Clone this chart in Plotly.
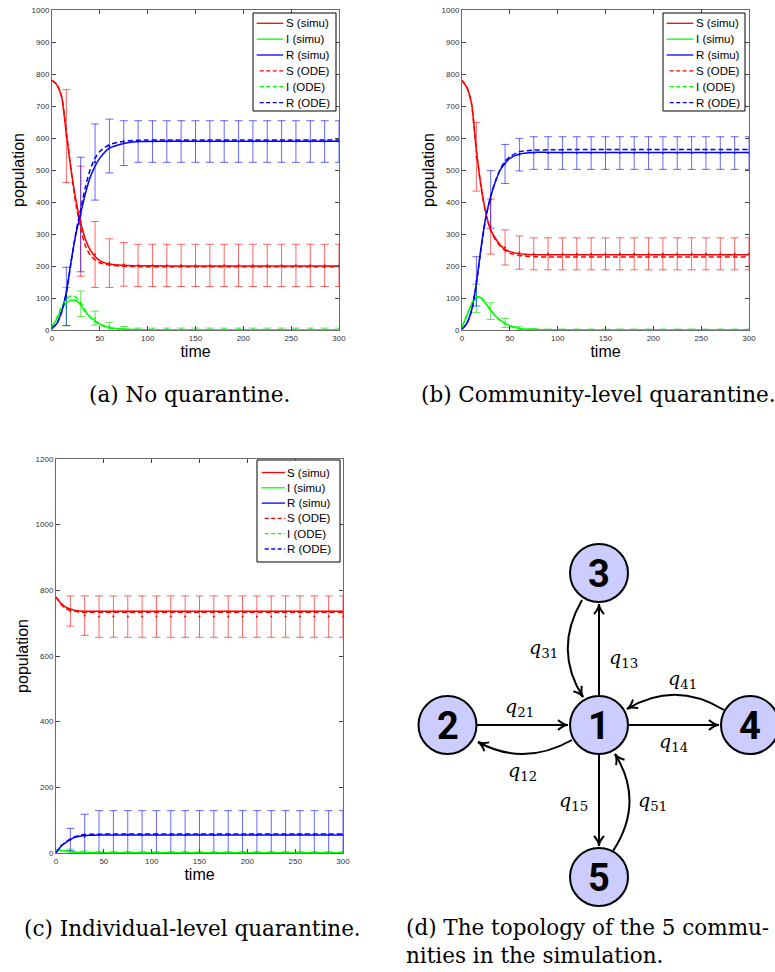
import math
import plotly.graph_objects as go

W, H = 775, 972

# ---------------- data ----------------
t_curve = [0, 5, 10, 15, 20, 25, 30, 35, 40, 45, 50, 60, 75, 90, 120, 150, 200, 250, 300]
t_err = [15, 30, 45, 60, 75, 90, 105, 120, 135, 150, 165, 180, 195, 210, 225, 240, 255, 270, 285, 300]

# (a) No quarantine
S_simu_a = [780, 766, 729, 612, 500, 406, 335, 283, 250, 230, 217, 206, 202, 201, 200, 200, 200, 200, 200]
I_simu_a = [10, 35, 65, 85, 93, 92, 78, 56, 40, 29, 19, 8, 3, 1, 0, 0, 0, 0, 0]
R_simu_a = [5, 20, 57, 118, 215, 300, 365, 427, 478, 512, 537, 568, 583, 589, 590, 590, 590, 590, 590]
S_ode_a = [780, 768, 731, 620, 498, 392, 318, 262, 234, 219, 210, 203, 199, 198, 198, 198, 198, 198, 198]
I_ode_a = [10, 38, 72, 95, 107, 103, 85, 60, 40, 26, 16, 6, 2, 1, 0, 0, 0, 0, 0]
R_ode_a = [5, 20, 55, 115, 212, 305, 378, 448, 502, 537, 558, 579, 590, 593, 594, 594, 594, 594, 594]
S_mean_a = [606, 340, 236, 209, 205, 202, 202, 202, 202, 202, 202, 202, 202, 202, 202, 202, 202, 202, 202, 202]
S_std_a = [145, 172, 103, 76, 68, 66, 66, 66, 66, 66, 66, 66, 66, 66, 66, 66, 66, 66, 66, 66]
I_mean_a = [73, 82, 37, 11, 4, 2, 2, 2, 2, 2, 2, 2, 2, 2, 2, 2, 2, 2, 2, 2]
I_std_a = [60, 40, 22, 12, 7, 4, 4, 4, 4, 4, 4, 4, 4, 4, 4, 4, 4, 4, 4, 4]
R_mean_a = [105, 361, 525, 575, 584, 589, 589, 589, 589, 589, 589, 589, 589, 589, 589, 589, 589, 589, 589, 589]
R_std_a = [91, 179, 119, 84, 70, 65, 65, 65, 65, 65, 65, 65, 65, 65, 65, 65, 65, 65, 65, 65]

# (b) Community-level quarantine
S_simu_b = [780, 758, 708, 563, 448, 365, 313, 286, 266, 252, 245, 238, 235, 235, 235, 235, 235, 235, 235]
I_simu_b = [10, 45, 80, 102, 100, 82, 62, 44, 31, 21, 14, 5, 2, 1, 0, 0, 0, 0, 0]
R_simu_b = [3, 20, 62, 146, 260, 354, 417, 464, 500, 521, 536, 550, 555, 555, 555, 555, 555, 555, 555]
S_ode_b = [780, 760, 705, 560, 445, 362, 310, 282, 262, 248, 240, 233, 229, 228, 228, 228, 228, 228, 228]
I_ode_b = [10, 45, 82, 104, 101, 83, 62, 43, 29, 19, 12, 4, 1, 0, 0, 0, 0, 0, 0]
R_ode_b = [3, 20, 60, 143, 257, 352, 418, 466, 503, 527, 542, 557, 562, 563, 564, 564, 564, 564, 564]
S_mean_b = [541, 323, 258, 242, 238, 238, 238, 238, 238, 238, 238, 238, 238, 238, 238, 238, 238, 238, 238, 238]
S_std_b = [107, 86, 55, 52, 50, 50, 50, 50, 50, 50, 50, 50, 50, 50, 50, 50, 50, 50, 50, 50]
I_mean_b = [99, 59, 22, 5, 2, 1, 1, 1, 1, 1, 1, 1, 1, 1, 1, 1, 1, 1, 1, 1]
I_std_b = [44, 26, 14, 5, 3, 2, 2, 2, 2, 2, 2, 2, 2, 2, 2, 2, 2, 2, 2, 2]
R_mean_b = [152, 408, 519, 548, 553, 553, 553, 553, 553, 553, 553, 553, 553, 553, 553, 553, 553, 553, 553, 553]
R_std_b = [77, 90, 61, 51, 51, 51, 51, 51, 51, 51, 51, 51, 51, 51, 51, 51, 51, 51, 51, 51]

# (c) Individual-level quarantine
S_simu_c = [780, 761, 749, 743, 739, 737, 736, 736, 736, 736, 736, 736, 736, 736, 736, 736, 736, 736, 736]
I_simu_c = [10, 8, 5, 3, 2, 2, 1, 1, 1, 1, 1, 1, 1, 1, 1, 1, 1, 1, 1]
R_simu_c = [0, 20, 31, 41, 48, 51, 53, 54, 54, 55, 55, 55, 55, 55, 55, 55, 55, 55, 55]
S_ode_c = [780, 758, 745, 739, 736, 734, 733, 733, 733, 733, 733, 733, 733, 733, 733, 733, 733, 733, 733]
I_ode_c = [10, 9, 6, 4, 3, 2, 2, 1, 1, 1, 1, 0, 0, 0, 0, 0, 0, 0, 0]
R_ode_c = [0, 21, 33, 43, 50, 54, 56, 57, 57, 57, 58, 58, 58, 58, 58, 58, 58, 58, 58]
S_mean_c = [737, 723, 720, 720, 720, 720, 720, 720, 720, 720, 720, 720, 720, 720, 720, 720, 720, 720, 720, 720]
S_std_c = [46, 60, 63, 63, 63, 63, 63, 63, 63, 63, 63, 63, 63, 63, 63, 63, 63, 63, 63, 63]
I_mean_c = [5, 2, 1, 1, 1, 1, 1, 1, 1, 1, 1, 1, 1, 1, 1, 1, 1, 1, 1, 1]
I_std_c = [7, 4, 3, 3, 3, 3, 3, 3, 3, 3, 3, 3, 3, 3, 3, 3, 3, 3, 3, 3]
R_mean_c = [41, 50, 55, 55, 55, 55, 55, 55, 55, 55, 55, 55, 55, 55, 55, 55, 55, 55, 55, 55]
R_std_c = [34, 68, 74, 74, 74, 74, 74, 74, 74, 74, 74, 74, 74, 74, 74, 74, 74, 74, 74, 74]

x_ticks = [0, 50, 100, 150, 200, 250, 300]
y_ticks_ab = [0, 100, 200, 300, 400, 500, 600, 700, 800, 900, 1000]
y_ticks_c = [0, 200, 400, 600, 800, 1000, 1200]

captions = ["(a) No quarantine.", "(b) Community-level quarantine.",
            "(c) Individual-level quarantine.",
            "(d) The topology of the 5 commu-<br>nities in the simulation."]

# topology graph (d)
node_names = ["1", "2", "3", "4", "5"]
edges_straight = [("1", "3"), ("2", "1"), ("1", "4"), ("1", "5")]
edges_curved = [("3", "1"), ("1", "2"), ("4", "1"), ("5", "1")]
edge_labels = ["q31", "q13", "q41", "q21", "q14", "q12", "q15", "q51"]

# ---------------- figure ----------------
RED, GREEN, BLUE = "#ff0000", "#00ff00", "#0000ff"
ERR = {RED: "rgba(255,0,0,0.6)", GREEN: "rgba(0,210,0,0.6)", BLUE: "rgba(0,0,255,0.6)"}
SANS = "Liberation Sans, Arial, sans-serif"
SERIF = "DejaVu Serif, serif"
DASH = "5px,3px"

fig = go.Figure()

panels = [
    dict(xa="x", ya="y",
         simu=[S_simu_a, I_simu_a, R_simu_a], ode=[S_ode_a, I_ode_a, R_ode_a],
         mean=[S_mean_a, I_mean_a, R_mean_a], std=[S_std_a, I_std_a, R_std_a],
         box=(253, 13, 336, 111), row0=23.3, drow=15.85, sx=(256.7, 283.3), tx=284.5),
    dict(xa="x2", ya="y2",
         simu=[S_simu_b, I_simu_b, R_simu_b], ode=[S_ode_b, I_ode_b, R_ode_b],
         mean=[S_mean_b, I_mean_b, R_mean_b], std=[S_std_b, I_std_b, R_std_b],
         box=(663, 13, 745, 111), row0=23.3, drow=15.85, sx=(666.7, 693.3), tx=694.5),
    dict(xa="x3", ya="y3",
         simu=[S_simu_c, I_simu_c, R_simu_c], ode=[S_ode_c, I_ode_c, R_ode_c],
         mean=[S_mean_c, I_mean_c, R_mean_c], std=[S_std_c, I_std_c, R_std_c],
         box=(257, 460, 340, 562), row0=472.5, drow=15.3, sx=(261.7, 285), tx=285.5),
]
cols = [RED, GREEN, BLUE]
letters = ["S", "I", "R"]

for p in panels:
    for k in range(3):
        fig.add_trace(go.Scatter(
            x=t_err, y=p["mean"][k], mode="markers",
            marker=dict(size=2, color=cols[k]),
            error_y=dict(type="data", array=p["std"][k], symmetric=True,
                         color=ERR[cols[k]], thickness=1, width=4),
            xaxis=p["xa"], yaxis=p["ya"], showlegend=False, hoverinfo="skip"))
    for k in range(3):
        fig.add_trace(go.Scatter(
            x=t_curve, y=p["simu"][k], mode="lines", name=f"{letters[k]} (simu)",
            line=dict(color=cols[k], width=1.5, shape="spline", smoothing=0.6),
            xaxis=p["xa"], yaxis=p["ya"], showlegend=False))
    for k in range(3):
        fig.add_trace(go.Scatter(
            x=t_curve, y=p["ode"][k], mode="lines", name=f"{letters[k]} (ODE)",
            line=dict(color=cols[k], width=1.5, dash=DASH, shape="spline", smoothing=0.6),
            xaxis=p["xa"], yaxis=p["ya"], showlegend=False))

def axis_style(**kw):
    d = dict(showline=True, linecolor="#6b6b6b", linewidth=1, mirror="ticks",
             ticks="inside", ticklen=4, tickcolor="#444", automargin=False,
             tickfont=dict(size=8, color="#333", family=SANS),
             showgrid=False, zeroline=False)
    d.update(kw)
    return d

def xt(text):
    return dict(text=text, font=dict(size=16, color="black", family=SANS), standoff=3)

def yt(text):
    return dict(text=text, font=dict(size=16, color="black", family=SANS), standoff=3)

fig.update_layout(
    template="none",
    width=W, height=H, margin=dict(l=0, r=0, t=0, b=0, pad=0, autoexpand=False),
    paper_bgcolor="white", plot_bgcolor="white", showlegend=False,
    xaxis=axis_style(domain=[52 / W, 339 / W], anchor="y", range=[0, 300], tickvals=x_ticks, title=xt("time")),
    yaxis=axis_style(domain=[1 - 330 / H, 1 - 10 / H], anchor="x", range=[0, 1000], tickvals=y_ticks_ab, title=yt("population")),
    xaxis2=axis_style(domain=[462 / W, 749 / W], anchor="y2", range=[0, 300], tickvals=x_ticks, title=xt("time")),
    yaxis2=axis_style(domain=[1 - 330 / H, 1 - 10 / H], anchor="x2", range=[0, 1000], tickvals=y_ticks_ab, title=yt("population")),
    xaxis3=axis_style(domain=[56 / W, 343 / W], anchor="y3", range=[0, 300], tickvals=x_ticks, title=xt("time")),
    yaxis3=axis_style(domain=[1 - 853 / H, 1 - 459 / H], anchor="x3", range=[0, 1200], tickvals=y_ticks_c, title=yt("population")),
)

def px(x):
    return x / W

def py(y):
    return 1 - y / H

# ---------------- legends (MATLAB-style boxes inside each panel) ----------------
for p in panels:
    bx0, by0, bx1, by1 = p["box"]
    fig.add_shape(type="rect", xref="paper", yref="paper", layer="above",
                  x0=px(bx0), x1=px(bx1), y0=py(by1), y1=py(by0),
                  fillcolor="white", line=dict(color="black", width=1))
    entries = [(f"{letters[k]} (simu)", cols[k], "solid") for k in range(3)] + \
              [(f"{letters[k]} (ODE)", cols[k], "4px,2.5px") for k in range(3)]
    for i, (name, col, dash) in enumerate(entries):
        yy = p["row0"] + i * p["drow"]
        sx0 = p["sx"][0] + (3 if dash != "solid" else 0)
        fig.add_shape(type="line", xref="paper", yref="paper", layer="above",
                      x0=px(sx0), x1=px(p["sx"][1]), y0=py(yy), y1=py(yy),
                      line=dict(color=col, width=1.3, dash=dash))
        fig.add_annotation(x=px(p["tx"]), y=py(yy), text=name, showarrow=False,
                           xref="paper", yref="paper", xanchor="left", yanchor="middle",
                           borderpad=0, font=dict(size=11.5, family=SANS, color="black"))

# ---------------- captions ----------------
cap_font = dict(family=SERIF, size=21.5, color="black")
fig.add_annotation(x=px(189), y=py(395), text=captions[0], showarrow=False, xref="paper", yref="paper",
                   xanchor="center", yanchor="middle", font=cap_font)
fig.add_annotation(x=px(598), y=py(395), text=captions[1], showarrow=False, xref="paper", yref="paper",
                   xanchor="center", yanchor="middle", font=cap_font)
fig.add_annotation(x=px(192), y=py(928), text=captions[2], showarrow=False, xref="paper", yref="paper",
                   xanchor="center", yanchor="middle", font=cap_font)
fig.add_annotation(x=px(405), y=py(914), text=captions[3], showarrow=False, xref="paper", yref="paper",
                   xanchor="left", yanchor="top", align="left", borderpad=0, font=cap_font)

# ---------------- topology diagram ----------------
R_NODE = 29
node_pos = {"1": (599, 725), "2": (447.5, 725), "3": (599, 573), "4": (750, 725), "5": (599, 877)}

def head(tipx, tipy, dx, dy, L=10, Wd=5):
    n = math.hypot(dx, dy)
    ux, uy = dx / n, dy / n
    bx, by = tipx - L * ux, tipy - L * uy
    p1 = (bx + Wd * (-uy), by + Wd * ux)
    p2 = (bx - Wd * (-uy), by - Wd * ux)
    mx, my = tipx - 0.45 * L * ux, tipy - 0.45 * L * uy
    path = (f"M {px(p1[0])},{py(p1[1])} Q {px(mx)},{py(my)} {px(tipx)},{py(tipy)} "
            f"Q {px(mx)},{py(my)} {px(p2[0])},{py(p2[1])}")
    fig.add_shape(type="path", xref="paper", yref="paper", path=path,
                  line=dict(color="black", width=2))

straight_geom = {
    ("1", "3"): ((599, 696), (599, 604)),
    ("2", "1"): ((476.5, 725), (568, 725)),
    ("1", "4"): ((628, 725), (719, 725)),
    ("1", "5"): ((599, 754), (599, 846)),
}
for e in edges_straight:
    (x0, y0), (x1, y1) = straight_geom[e]
    fig.add_shape(type="line", xref="paper", yref="paper",
                  x0=px(x0), y0=py(y0), x1=px(x1), y1=py(y1),
                  line=dict(color="black", width=2))
    head(x1, y1, x1 - x0, y1 - y0)

curved_geom = {
    ("3", "1"): ((582, 600), (553, 650), (583, 697)),
    ("1", "2"): ((572, 740), (524, 767), (478, 742)),
    ("4", "1"): ((724, 710), (675, 680), (627, 709)),
    ("5", "1"): ((613, 851), (645, 802), (615, 754)),
}
for e in edges_curved:
    (x0, y0), (cx, cy), (x1, y1) = curved_geom[e]
    path = f"M {px(x0)},{py(y0)} Q {px(cx)},{py(cy)} {px(x1)},{py(y1)}"
    fig.add_shape(type="path", xref="paper", yref="paper", path=path,
                  line=dict(color="black", width=2))
    head(x1, y1, x1 - cx, y1 - cy)

for name in node_names:
    cx, cy = node_pos[name]
    fig.add_shape(type="circle", xref="paper", yref="paper",
                  x0=px(cx - R_NODE), x1=px(cx + R_NODE), y0=py(cy + R_NODE), y1=py(cy - R_NODE),
                  fillcolor="#ccccff", line=dict(color="black", width=2))
    fig.add_annotation(x=px(cx), y=py(cy + 1), text=f"<b>{name}</b>", showarrow=False,
                       xref="paper", yref="paper", xanchor="center", yanchor="middle",
                       font=dict(family="Roboto, DejaVu Sans, sans-serif", size=38, color="black"))

label_pos = {"q31": (543, 648), "q13": (623, 658), "q41": (682, 679), "q21": (519, 707),
             "q14": (673, 742), "q12": (522, 771), "q15": (573, 801), "q51": (652, 801)}
for lab in edge_labels:
    x, y = label_pos[lab]
    fig.add_annotation(x=px(x), y=py(y), text=f"<i>q</i><sub>{lab[1:]}</sub>", showarrow=False,
                       xref="paper", yref="paper", xanchor="center", yanchor="middle",
                       font=dict(family=SERIF, size=19, color="black"))

fig.write_html("out.html", config={"displayModeBar": False},
               post_script="document.body.style.margin='0px';document.body.style.padding='0px';")
